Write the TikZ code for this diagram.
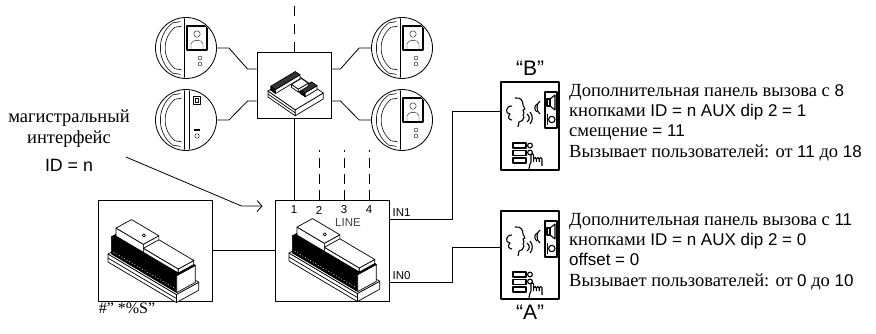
\documentclass[tikz,border=0pt]{standalone}
\usepackage{fontspec}
\setmainfont{Liberation Serif}
\newfontfamily\hv{Liberation Sans}
\usepackage{tikz}
\usetikzlibrary{arrows.meta,positioning}

\newcommand{\lat}[1]{{\hv\fontsize{17}{20.3}\selectfont #1}}
% visible faces of a block: front, right end, top
\newcommand{\isobox}[8]{%
	\filldraw[fill=#7] (#1,#3,#5) -- (#2,#3,#5) -- (#2,#3,#6) -- (#1,#3,#6) -- cycle;
	\filldraw[fill=white] (#2,#3,#5) -- (#2,#4,#5) -- (#2,#4,#6) -- (#2,#3,#6) -- cycle;
	\filldraw[fill=#8] (#1,#3,#6) -- (#2,#3,#6) -- (#2,#4,#6) -- (#1,#4,#6) -- cycle;}

\tikzset{
	dinmodule/.pic={
		\begin{scope}[x={(0.76pt,-0.45pt)},y={(0.62pt,0.34pt)},z={(0pt,1pt)},line width=0.7]
		\isobox{0}{90}{0}{36}{0}{8}{white}{white}
		\draw (0,0,4) -- (90,0,4);
		\isobox{2}{88}{3}{33}{8}{25}{black}{black}
		\draw[white,line width=0.5,dash pattern=on 1pt off 2pt] (5,3,11) -- (85,3,11);
		\isobox{4}{40}{8}{33}{25}{33}{white}{white}
		\isobox{40}{86}{8}{33}{25}{29}{white}{white}
		\draw (30,21,33) circle (1.6pt);
		\end{scope}
	},
	hubmodule/.pic={
		\begin{scope}[x={(0.68pt,-0.47pt)},y={(0.7pt,0.42pt)},z={(0pt,1pt)},line width=0.7]
		\isobox{0}{40}{0}{40}{0}{6}{white}{white}
		\draw (0,0,3) -- (40,0,3);
		\isobox{1}{8}{3}{38}{6}{10}{black}{black!80}
		\isobox{24}{32}{22}{39}{6}{10}{black}{black!80}
		\isobox{12}{22}{22}{36}{6}{9}{white}{white}
		\end{scope}
	},
	handset/.pic={
		\draw[double,double distance=4,line width=0.7] (-5,-24) -- (-12,-23) .. controls (-27,-12) and (-27,12) .. (-12,23) -- (-5,24);
	},
	videophone/.pic={
		\begin{scope}
		\clip (0,0) circle (29.6);
		\draw (-2,-31) -- (-2,31);
		\pic {handset};
		\draw[line width=1.6] (1,-22) rectangle (21,2);
		\draw (11,-14) circle (3.2);
		\draw (5,2) -- (5,-4) .. controls (5,-9) and (17,-9) .. (17,-4) -- (17,2);
		\draw (14,10) circle (2) (14,16) circle (2);
		\end{scope}
	},
	doorphone/.pic={
		\begin{scope}
		\clip (0,0) circle (29.6);
		\draw (-2,-31) -- (-2,31);
		\draw (3,-31) -- (3,31);
		\pic {handset};
		\draw (7,-24) rectangle (14,-16) (9,-22) rectangle (12,-18);
		\draw[line width=1.5] (8,10) -- (14,10);
		\draw (11,16) circle (2.2);
		\end{scope}
	},
	callpanel/.pic={
		\begin{scope}[line width=1.1]
		% speaker and camera
		\draw[line width=1.5] (15,-34) rectangle (27,2);
		\draw (17,-27) rectangle (20,-20);
		\draw (20,-27) -- (25,-31) -- (25,-16) -- (20,-20);
		\draw[line width=1.7] (17.5,-12) -- (17.5,-1);
		\draw (21.8,-6.5) circle (3.2);
		% head
		\draw (-15,-28) .. controls (-9,-29) and (-7,-25) .. (-7,-21) -- (-5,-17) -- (-7,-16) -- (-6,-13) -- (-7,-11) -- (-6,-9) .. controls (-7,-6) and (-8,-4) .. (-11,-4) -- (-12,1);
		\draw (-18,-20) .. controls (-25,-20) and (-25,-12) .. (-20,-12) .. controls (-23,-9) and (-21,-6) .. (-18,-6);
		% waves
		\draw (7,-22) .. controls (4,-20) and (4,-16) .. (7,-14);
		\draw (10,-25) .. controls (6,-22) and (6,-15) .. (10,-12);
		\draw (-3,-12) .. controls (0,-10) and (0,-6) .. (-3,-4);
		\draw (0,-14) .. controls (3,-11) and (3,-5) .. (0,-2);
		% buttons
		\foreach \y in {17,24.5,32}
			\draw (-17,\y) rectangle (-4,\y+5);
		\draw (0,19.5) circle (2.4) (0,26.5) circle (2.4);
		% hand
		\draw (-1,43) .. controls (-2,40) and (1,38) .. (1,36) -- (1,29) .. controls (1,27) and (3.6,27) .. (3.6,29) -- (3.6,36);
		\draw (3.6,33) .. controls (3.6,31) and (6.4,31) .. (6.4,33) -- (6.4,36);
		\draw (6.4,33) .. controls (6.4,31) and (9.2,31) .. (9.2,33) -- (9.2,36);
		\draw (9.2,33) .. controls (9.2,31) and (12,31) .. (12,33) -- (12,40);
		\end{scope}
	}
}

\begin{document}
\begin{tikzpicture}[x=1pt,y=-1pt,line join=round]
	\tikzstyle{devbox} = [draw, line width=0.9, minimum width=114, minimum height=101, inner sep=0]
	\tikzstyle{hubbox} = [draw, line width=0.9, minimum width=74, minimum height=66, inner sep=0]
	\tikzstyle{phone} = [draw, circle, line width=0.8, minimum size=61, inner sep=0]
	\tikzstyle{panel} = [draw, line width=1.8, minimum width=58, minimum height=88, inner sep=0]
	\tikzstyle{wire} = [line width=0.8]
	\tikzstyle{busdash} = [line width=0.8, dash pattern=on 10pt off 6pt]
	\tikzstyle{ru} = [font=\fontsize{18.5}{20.3}\selectfont, align=left, inner sep=0]
	\tikzstyle{small} = [font=\hv\fontsize{11.5}{11.5}\selectfont, inner sep=1]
	\tikzstyle{tag} = [font=\hv\fontsize{21}{21}\selectfont, inner sep=1]
	\useasboundingbox (0,0) rectangle (876,334);

	\node [hubbox] (hub) at (294,85) {};
	\node [devbox] (ctrl) at (155,250.5) {};
	\node [devbox] (linebox) at (332,250.5) {};
	\pic at (268,97) {hubmodule};
	\pic at (108,262) {dinmodule};
	\pic at (289,261) {dinmodule};

	\node [phone] (tl) at (186,48) {};
	\node [phone] (bl) at (186,120) {};
	\node [phone] (tr) at (402,48) {};
	\node [phone] (br) at (402,120) {};
	\pic at (tl) {videophone};
	\pic at (bl) {doorphone};
	\pic at (tr) {videophone};
	\pic at (br) {videophone};

	\node [panel] (panB) at (530,126) {};
	\node [panel] (panA) at (530,255) {};
	\pic at (panB) {callpanel};
	\pic at (panA) {callpanel};
	\node [tag, above=4pt of panB] (tagB) {“B”};
	\node [tag, below=4pt of panA] (tagA) {“A”};

	% riser
	\coordinate (bustop) at (294,0);
	\draw [busdash, dash pattern=on 10pt off 8pt] (hub.north) -- (bustop);
	\draw [wire] (hub.south) -- (hub.south |- linebox.north);
	\foreach \i/\x in {2/319,3/344,4/369} {
		\coordinate (top\i) at (\x,150);
		\draw [busdash] (top\i |- linebox.north) -- (top\i);
	}
	\foreach \i/\x in {1/294,2/319,3/344,4/369}
		\node [small] (num\i) at (\x,210) {\i};
	\node [small, text=black!75] (linelbl) at (348,223) {LINE};

	% phones to hub
	\draw [wire] (tl.east) -- ++(12,0) -- ([xshift=-9,yshift=16]hub.west) -- ([yshift=16]hub.west);
	\draw [wire] (bl.east) -- ++(12,0) -- ([xshift=-9,yshift=-16]hub.west) -- ([yshift=-16]hub.west);
	\draw [wire] (tr.west) -- ++(-12,0) -- ([xshift=9,yshift=16]hub.east) -- ([yshift=16]hub.east);
	\draw [wire] (br.west) -- ++(-12,0) -- ([xshift=9,yshift=-16]hub.east) -- ([yshift=-16]hub.east);

	% inputs
	\draw [wire] (ctrl) -- (linebox);
	\draw [wire] ([yshift=31.5]linebox.east) -- ++(63,0) |- ([yshift=15]panB.west);
	\draw [wire] ([yshift=-31.5]linebox.east) -- ++(63,0) |- ([yshift=8]panA.west);
	\node [small, anchor=south west] (in1) at ([xshift=2,yshift=33]linebox.east) {IN1};
	\node [small, anchor=south west] (in0) at ([xshift=2,yshift=-30]linebox.east) {IN0};

	\node [ru, align=center, font=\fontsize{18.5}{21}\selectfont] (iface) at (69,141) {магистральный\\интерфейс\\[7pt]{\hv\fontsize{17.8}{17.8}\selectfont ID = n}};
	\coordinate (arrtip) at ([xshift=-12,yshift=-6.5]linebox.north west);
	\draw [wire, -{Straight Barb[length=5pt,width=11pt]}] ([xshift=-4,yshift=-16]iface.east) -- ([xshift=-21]arrtip) -- (arrtip);

	\node [ru, anchor=north west] (txtB) at (569,84) {Дополнительная панель вызова с \lat{8}\\кнопками \lat{ID = n AUX dip 2 = 1}\\смещение \lat{= 11}\\Вызывает пользователей: от \lat{11} до \lat{18}};
	\node [ru, anchor=north west] (txtA) at (569,213) {Дополнительная панель вызова с \lat{11}\\кнопками \lat{ID = n AUX dip 2 = 0}\\\lat{offset = 0}\\Вызывает пользователей: от \lat{0} до \lat{10}};

	\node [anchor=north west, inner sep=1, font=\fontsize{16}{16}\selectfont] (ctrllbl) at (ctrl.south west) {\#" *\%S"};
\end{tikzpicture}
\end{document}
